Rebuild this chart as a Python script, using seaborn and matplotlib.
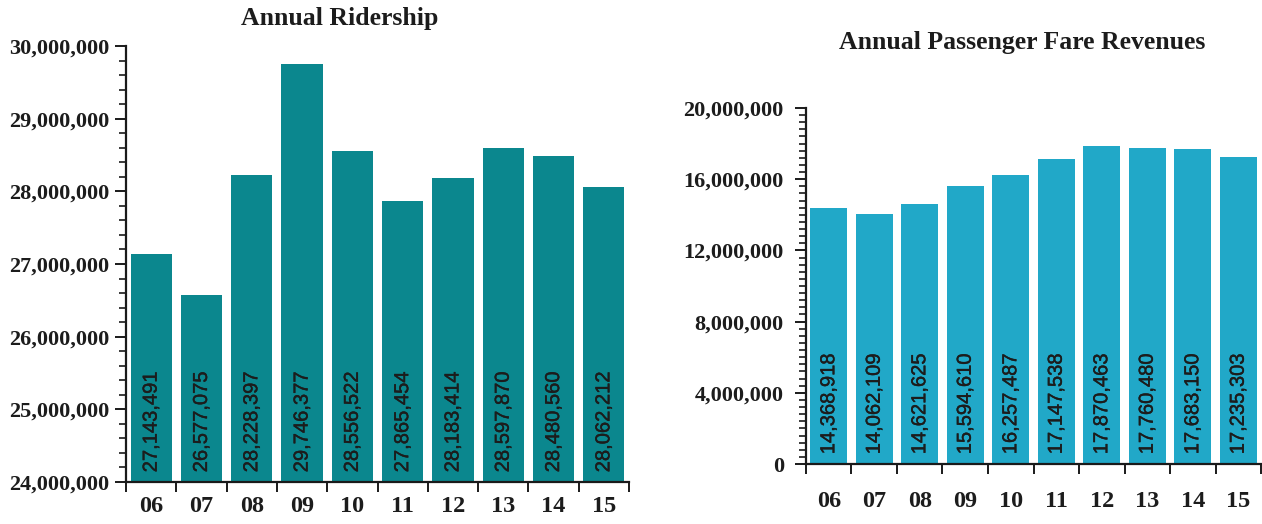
import numpy as np
import pandas as pd
import matplotlib
matplotlib.use("Agg")
import matplotlib.pyplot as plt
import matplotlib.patheffects as pe
from matplotlib.ticker import MultipleLocator, FuncFormatter, FixedLocator
import seaborn as sns

years = ["06", "07", "08", "09", "10", "11", "12", "13", "14", "15"]
ridership = [27143491, 26577075, 28228397, 29746377, 28556522,
             27865454, 28183414, 28597870, 28480560, 28062212]
fare_revenues = [14368918, 14062109, 14621625, 15594610, 16257487,
                 17147538, 17870463, 17760480, 17683150, 17235303]

left_title = "Annual Ridership"
right_title = "Annual Passenger Fare Revenues"

sns.set_theme(style="white")
plt.rcParams["font.family"] = ["Liberation Serif", "DejaVu Serif"]

W, H = 1262, 524
fig = plt.figure(figsize=(W / 100, H / 100), dpi=100)
fig.patch.set_facecolor("white")

def px_axes(x0, x1, ytop, ybot):
    return fig.add_axes([x0 / W, (H - ybot) / H, (x1 - x0) / W, (ybot - ytop) / H])

ax1 = px_axes(126, 629, 46, 482)
ax2 = px_axes(806, 1261, 108, 464)

comma = FuncFormatter(lambda v, p: f"{int(round(v)):,}")
serif = ["Liberation Serif", "DejaVu Serif"]
label_kw = dict(family=["Liberation Sans", "DejaVu Sans"], size=14.5, color="#1c1c1c")

def style(ax, values, color, ylim, major, minor, ypad, xpad):
    df = pd.DataFrame({"year": years, "value": values})
    sns.barplot(data=df, x="year", y="value", color=color, saturation=1,
                width=0.82, ax=ax, linewidth=0, errorbar=None)
    ax.set_ylim(*ylim)
    ax.set_xlim(-0.5, len(years) - 0.5)
    ax.set_xlabel("")
    ax.set_ylabel("")
    for s in ("top", "right"):
        ax.spines[s].set_visible(False)
    for s in ("left", "bottom"):
        ax.spines[s].set_color("#1a1a1a")
        ax.spines[s].set_linewidth(1.6)
    ax.yaxis.set_major_locator(MultipleLocator(major))
    ax.yaxis.set_minor_locator(MultipleLocator(minor))
    ax.yaxis.set_major_formatter(comma)
    ax.tick_params(axis="y", which="major", direction="out", length=8, width=1.4,
                   color="#1a1a1a", pad=ypad, left=True)
    ax.tick_params(axis="y", which="minor", direction="out", length=5, width=1.2,
                   color="#1a1a1a", left=True)
    # x: ticks at category boundaries, labels at centers
    ax.xaxis.set_major_locator(FixedLocator(np.arange(-0.5, len(years), 1.0)))
    ax.xaxis.set_major_formatter(FuncFormatter(lambda v, p: ""))
    ax.set_xticks(np.arange(len(years)), labels=years, minor=True)
    ax.tick_params(axis="x", which="major", direction="out", length=7, width=1.4,
                   color="#1a1a1a", bottom=True)
    ax.tick_params(axis="x", which="minor", length=0, pad=xpad, bottom=True)
    for lab in ax.get_yticklabels():
        lab.set_fontfamily(serif)
        lab.set_fontweight("bold")
        lab.set_fontsize(16)
        lab.set_color("#1c1c1c")
    for lab in ax.get_xticklabels(minor=True):
        lab.set_fontfamily(serif)
        lab.set_fontweight("bold")
        lab.set_fontsize(17.5)
        lab.set_color("#1c1c1c")
    for i, v in enumerate(values):
        t = ax.annotate(f"{v:,}", xy=(i, ylim[0]), xytext=(0, 7), textcoords="offset points",
                        rotation=90, ha="center", va="bottom", **label_kw)
        t.set_path_effects([pe.withStroke(linewidth=0.3, foreground="#1c1c1c")])

style(ax1, ridership, "#0b878e", (24_000_000, 30_000_000), 1_000_000, 200_000, 4, 10)
style(ax2, fare_revenues, "#21a8c8", (0, 20_000_000), 4_000_000, 400_000, 8, 19.5)

fig.text(340 / W, 1 - 18 / H, left_title, ha="center", va="center",
         fontsize=18.5, fontweight="bold", color="#1c1c1c")
fig.text(1022 / W, 1 - 42 / H, right_title, ha="center", va="center",
         fontsize=18.5, fontweight="bold", color="#1c1c1c")

fig.savefig("out.png", dpi=100, facecolor="white")
